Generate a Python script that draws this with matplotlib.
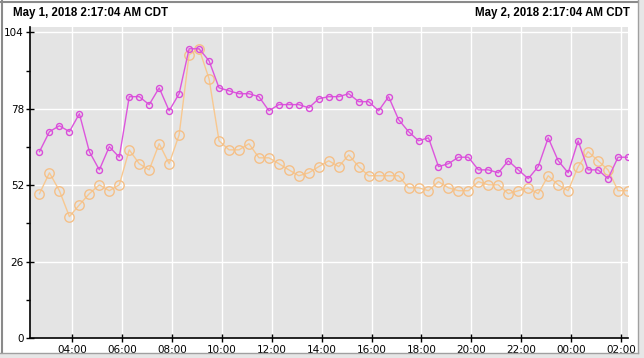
import matplotlib
matplotlib.use("Agg")
import matplotlib.pyplot as plt
import matplotlib.dates as mdates
from matplotlib.lines import Line2D
from matplotlib.patches import Rectangle
import numpy as np
from datetime import datetime, timedelta

start_label = "May 1, 2018 2:17:04 AM CDT"
end_label = "May 2, 2018 2:17:04 AM CDT"
t_start = datetime(2018, 5, 1, 2, 17, 4)
t_end = datetime(2018, 5, 2, 2, 17, 4)
step_minutes = 24

magenta_values = [63.4, 70.2, 72.2, 70.2, 76.3, 63.4, 57.2, 65.1, 61.5, 82.1,
                  82.1, 79.4, 85.1, 77.3, 83.1, 98.4, 98.4, 94.3, 85.1, 84.1,
                  83.1, 83.1, 82.1, 77.3, 79.4, 79.4, 79.4, 78.3, 81.4, 82.1,
                  82.1, 83.1, 80.4, 80.4, 77.3, 82.1, 74.3, 70.2, 67.1, 68.1,
                  58.3, 59.3, 61.5, 61.5, 57.2, 57.2, 56.2, 60.3, 57.2, 54.2,
                  58.3, 68.1, 60.3, 56.2, 67.1, 57.2, 57.2, 54.2, 61.5, 61.5]

orange_values = [49.1, 56.2, 50.1, 41.3, 45.3, 49.1, 52.1, 50.1, 52.1, 64.0,
                 59.3, 57.2, 66.1, 59.3, 69.1, 96.4, 98.4, 88.2, 67.1, 64.0,
                 64.0, 66.1, 61.3, 61.3, 59.3, 57.2, 55.2, 56.2, 58.3, 60.3,
                 58.3, 62.3, 58.3, 55.2, 55.2, 55.2, 55.2, 51.1, 51.1, 50.1,
                 53.2, 51.1, 50.1, 50.1, 53.2, 52.1, 52.1, 49.1, 50.1, 51.1,
                 49.1, 55.2, 52.1, 50.1, 58.3, 63.4, 60.3, 57.2, 50.1, 50.1]

y_major = [0, 26, 52, 78, 104]
y_minor = [13, 39, 65, 91]

n = len(magenta_values)
times = [t_end - timedelta(minutes=step_minutes * (n - 1 - i)) for i in range(n)]

W, H = 644, 358
fig = plt.figure(figsize=(W / 100, H / 100), dpi=100)
fig.patch.set_facecolor("white")

ax = fig.add_axes([29.5 / W, (H - 338) / H, (628 - 29.5) / W, (338 - 27) / H])
ax.set_facecolor("#e4e4e4")

ax.plot(times, orange_values, color="#f8c890", lw=1.0, marker="o", ms=6.8,
        mfc="none", mec="#f5c088", mew=1.0, zorder=3)
ax.plot(times, magenta_values, color="#dd55dd", lw=1.0, marker="o", ms=4.3,
        mfc="none", mec="#d94cd9", mew=1.0, zorder=4)

ax.set_xlim(t_start, t_end)
ax.set_ylim(0, 105.8)

ax.xaxis.set_major_locator(mdates.HourLocator(byhour=range(0, 24, 2)))
ax.xaxis.set_major_formatter(mdates.DateFormatter("%H:%M"))
ax.set_yticks(y_major)
ax.set_yticks(y_minor, minor=True)
ax.set_yticklabels([str(v) for v in y_major])

ax.grid(True, which="major", color="white", lw=1.0)
ax.set_axisbelow(True)

for s in ["top", "right"]:
    ax.spines[s].set_visible(False)
for s in ["left", "bottom"]:
    ax.spines[s].set_color("black")
    ax.spines[s].set_linewidth(1.2)

ax.tick_params(axis="both", which="major", direction="inout", length=6, width=1,
               labelsize=7.5, colors="black", pad=1)
ax.tick_params(axis="y", which="minor", direction="out", length=3, width=1)
ax.tick_params(axis="x", which="major", direction="inout", length=6, pad=2)
for lab in ax.get_xticklabels() + ax.get_yticklabels():
    lab.set_fontfamily("DejaVu Sans")

fig.text(13 / W, 1 - 13 / H, start_label, ha="left", va="center",
         fontsize=8.3, fontweight="bold", family="Liberation Sans")
fig.text(630 / W, 1 - 13 / H, end_label, ha="right", va="center",
         fontsize=8.3, fontweight="bold", family="Liberation Sans")

# window frame
fig.add_artist(Rectangle((637.5 / W, 0), (W - 637.5) / W, 1, transform=fig.transFigure,
                         facecolor="#e6e6e6", edgecolor="none", zorder=0))
fig.add_artist(Rectangle((0, 0), 1, (H - 352.5) / H, transform=fig.transFigure,
                         facecolor="#e6e6e6", edgecolor="none", zorder=0))
fig.add_artist(Line2D([1.5 / W, 1.5 / W], [(H - 352.5) / H, 1], transform=fig.transFigure,
                      color="#8a8a8a", lw=1.5))
fig.add_artist(Line2D([0, 637.5 / W], [1 - 1.5 / H, 1 - 1.5 / H], transform=fig.transFigure,
                      color="#8a8a8a", lw=1.5))
fig.add_artist(Line2D([637.5 / W, 637.5 / W], [(H - 352.5) / H, 1], transform=fig.transFigure,
                      color="#a0a0a0", lw=1.0))
fig.add_artist(Line2D([0, 637.5 / W], [(H - 352.5) / H, (H - 352.5) / H], transform=fig.transFigure,
                      color="#a0a0a0", lw=1.0))

fig.savefig("out.png", dpi=100)
